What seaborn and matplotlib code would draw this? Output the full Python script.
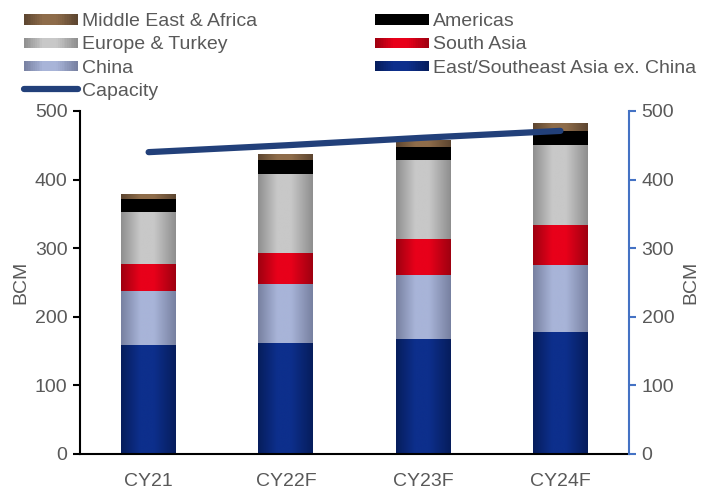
import numpy as np
import pandas as pd
import matplotlib
matplotlib.use("Agg")
import matplotlib.pyplot as plt
import seaborn as sns
from matplotlib.colors import LinearSegmentedColormap
from matplotlib.legend_handler import HandlerBase
from matplotlib.patches import Rectangle
from matplotlib.lines import Line2D

# ---- data (BCM) ----
years = ["CY21", "CY22F", "CY23F", "CY24F"]
east_se_asia = [159, 162, 168, 178]
china = [79, 86, 93, 98]
south_asia = [39, 45, 52, 58]
europe_turkey = [76, 115, 116, 116]
americas = [19, 21, 19, 21]
middle_east_africa = [7, 8, 9, 11]
capacity = [440, 450, 461, 471]

series_names = ["East/Southeast Asia ex. China", "China", "South Asia",
                "Europe & Turkey", "Americas", "Middle East & Africa"]
series_values = [east_se_asia, china, south_asia, europe_turkey, americas,
                 middle_east_africa]

# (edge colour, centre colour) for the horizontal shading of each segment
shades = {
    "East/Southeast Asia ex. China": ("#061d5c", "#0d2f8c"),
    "China": ("#7780a0", "#a8b4d8"),
    "South Asia": ("#9e0010", "#e8001a"),
    "Europe & Turkey": ("#8e8e8e", "#c8c8c8"),
    "Americas": ("#000000", "#000000"),
    "Middle East & Africa": ("#5c4530", "#8e6c4a"),
}

TEXT = "#595959"
LINE = "#22407a"
RIGHT = "#4472c4"

sns.set_theme(style="white")
plt.rcParams["font.family"] = ["Liberation Sans", "DejaVu Sans"]
plt.rcParams["font.size"] = 14


def shade_cmap(edge, centre):
    return LinearSegmentedColormap.from_list(
        "shade", [(0.0, edge), (0.35, centre), (0.6, centre), (1.0, edge)])


fig = plt.figure(figsize=(7.13, 4.9), dpi=100)
ax = fig.add_axes([0.1122, 0.0735, 0.77, 0.70])

gradient = np.linspace(0, 1, 256).reshape(1, -1)
bottom = np.zeros(len(years))
for name, vals in zip(series_names, series_values):
    df = pd.DataFrame({"year": years, "value": vals})
    n_before = len(ax.patches)
    sns.barplot(data=df, x="year", y="value", order=years, bottom=bottom,
                width=0.4, color=shades[name][1], ax=ax, linewidth=0,
                errorbar=None)
    cmap = shade_cmap(*shades[name])
    for p in ax.patches[n_before:]:
        x0, y0 = p.get_x(), p.get_y()
        w, h = p.get_width(), p.get_height()
        p.set_facecolor("none")
        im = ax.imshow(gradient, cmap=cmap, aspect="auto",
                       extent=(x0, x0 + w, y0, y0 + h), zorder=2,
                       interpolation="bilinear")
        im.set_clip_path(p)
    bottom = bottom + np.array(vals)

cap_df = pd.DataFrame({"year": years, "capacity": capacity})
sns.lineplot(data=cap_df, x="year", y="capacity", ax=ax, color=LINE,
             linewidth=4.5, solid_capstyle="round", zorder=4, legend=False)

ax.set_xlim(-0.5, 3.5)
ax.set_ylim(0, 500)
ax.set_yticks(range(0, 501, 100))
ax.set_xlabel("")
ax.set_ylabel("BCM", color=TEXT, fontsize=14, labelpad=4)
ax.set_xticks(range(4))
ax.set_xticklabels(years)
ax.set_xticks([-0.5, 0.5, 1.5, 2.5, 3.5], minor=True)
ax.tick_params(axis="x", which="major", length=0, colors=TEXT, pad=14,
               labelsize=14)
ax.tick_params(axis="x", which="minor", length=6, width=1.5, color="black",
               direction="out")
ax.tick_params(axis="y", length=5, width=1.5, color="black", direction="out",
               colors=TEXT, labelsize=14, left=True, pad=4)
ax.tick_params(axis="y", color="black")
for side in ["top", "right"]:
    ax.spines[side].set_visible(False)
ax.spines["left"].set_color("black")
ax.spines["left"].set_linewidth(1.5)
ax.spines["bottom"].set_color("black")
ax.spines["bottom"].set_linewidth(1.5)

ax2 = ax.twinx()
ax2.set_ylim(0, 500)
ax2.set_yticks(range(0, 501, 100))
ax2.tick_params(axis="y", length=5, width=1.5, color=RIGHT, direction="out",
                labelcolor=TEXT, labelsize=14, right=True, pad=4)
for side in ["top", "left", "bottom"]:
    ax2.spines[side].set_visible(False)
ax2.spines["right"].set_color(RIGHT)
ax2.spines["right"].set_linewidth(1.5)
ax2.set_ylabel("BCM", color=TEXT, fontsize=14, rotation=90, labelpad=6)
ax2.grid(False)
ax.grid(False)


class ShadeKey:
    def __init__(self, edge, centre):
        self.edge, self.centre = edge, centre


class ShadeHandler(HandlerBase):
    def create_artists(self, legend, orig_handle, xdescent, ydescent,
                       width, height, fontsize, trans):
        cmap = shade_cmap(orig_handle.edge, orig_handle.centre)
        n = 30
        arts = []
        bar_h = height * 0.75
        y = -ydescent + (height - bar_h) / 2
        for i in range(n):
            r = Rectangle((-xdescent + width * i / n, y), width / n + 0.3,
                          bar_h, facecolor=cmap((i + 0.5) / n),
                          edgecolor="none", transform=trans)
            arts.append(r)
        return arts


legend_order = ["Middle East & Africa", "Europe & Turkey", "China", None,
                "Americas", "South Asia", "East/Southeast Asia ex. China"]
handles, labels = [], []
for nm in legend_order:
    if nm is None:
        handles.append(Line2D([], [], color=LINE, linewidth=4.5,
                              solid_capstyle="round"))
        labels.append("Capacity")
    else:
        handles.append(ShadeKey(*shades[nm]))
        labels.append(nm)

fig.legend(handles, labels, ncol=2, loc="upper left",
           bbox_to_anchor=(0.015, 1.002), frameon=False,
           handler_map={ShadeKey: ShadeHandler()},
           handlelength=2.75, handletextpad=0.2, labelspacing=0.29,
           columnspacing=6.1, fontsize=14, labelcolor=TEXT,
           borderaxespad=0.3)

fig.savefig("out.png", dpi=100)
